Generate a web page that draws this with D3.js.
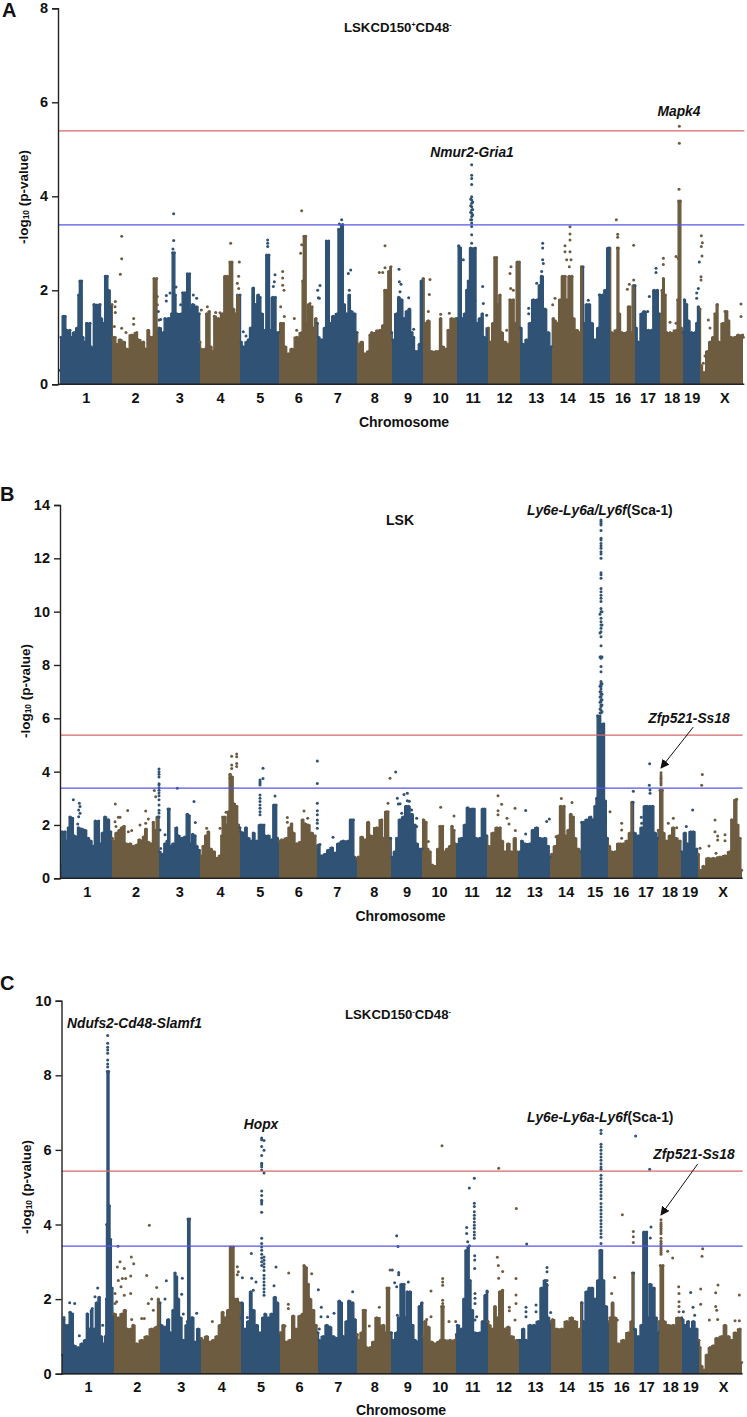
<!DOCTYPE html>
<html><head><meta charset="utf-8">
<script src="https://cdn.jsdelivr.net/npm/d3@7/dist/d3.min.js"></script>
<style>html,body{margin:0;padding:0;background:#fff}svg{display:block}text{font-family:"Liberation Sans",Arial,sans-serif;font-weight:bold;fill:#111}</style>
</head><body><script>
const chrNames=["1","2","3","4","5","6","7","8","9","10","11","12","13","14","15","16","17","18","19","X"];
const edgesA=[180,335,475,600,720,838,952,1071,1175,1270,1371,1465,1559,1656,1748,1830,1905,1980,2050,2100,2230];
const edgesB=[183,337,476,600,720,838,951,1070,1172,1267,1367,1462,1555,1651,1743,1825,1899,1974,2043,2095,2225];
const edgesC=[187,341,480,604,723,840,954,1072,1174,1270,1369,1464,1557,1653,1746,1827,1901,1976,2045,2097,2225];
const yTicksA=[0,2,4,6,8], yTicksB=[0,2,4,6,8,10,12,14], yTicksC=[0,2,4,6,8,10];

const envelopeA=[[180,.3],[183,1],[190,1.45],[195,1.45],[200,1.15],[210,1.15],[212,1],[222,1.1],[232,1.2],[236,1.9],[240,2.2],[245,2.2],[248,1],[255,.9],[260,1.3],[270,1.3],[273,.8],[278,.75],[282,1.7],[300,1.7],[303,1.4],[312,1.3],[316,2.3],[322,2.3],[325,2],[336,1.7],
[338,1],[345,1],[350,.85],[360,.95],[372,.9],[380,.75],[395,1.05],[410,1.1],[415,.95],[430,.9],[437,.75],[445,1.15],[452,1],[458,1],[462,2.25],[470,2.25],[472,1.2],[476,1.1],
[478,1.2],[490,1.1],[495,1.4],[505,1.4],[510,1.4],[515,1.5],[518,2.8],[523,2.8],[526,1.9],[530,1.5],[545,1.5],[548,1.95],[555,1.95],[558,1.2],[562,2.35],[569,2.35],[572,1.6],[578,1.7],[590,1.65],[598,1.5],[600,.9],
[603,.75],[615,.75],[620,1.5],[628,1.55],[632,.8],[640,.7],[643,1.45],[655,1.4],[668,1.5],[675,2.3],[682,2.3],[686,2],[690,2.6],[696,2.6],[700,1.6],[708,1.5],[712,1.9],[720,1.9],
[723,.9],[730,.8],[740,.9],[745,.95],[752,1.2],[760,2.05],[766,1.7],[775,1.9],[780,1.85],[785,1.5],[795,1.15],[800,2.75],[807,2.75],[810,1.15],[818,1.85],[826,1.85],[830,1.1],[836,1.1],
[842,1.3],[850,1.3],[855,.8],[865,.65],[875,.75],[890,1],[905,1.1],[908,2.2],[912,3.15],[917,3.15],[920,1.3],[926,1.7],[936,1.65],[940,1.2],[948,1.4],[952,1.3],
[955,1],[965,.95],[975,1.2],[979,3.05],[986,3.05],[990,1.3],[1000,1.45],[1012,1.5],[1016,3.3],[1028,3.4],[1032,1.7],[1040,1.5],[1048,1.9],[1054,1.55],[1064,1.5],[1071,1.1],
[1075,.85],[1085,.9],[1095,.65],[1105,.7],[1110,1.05],[1115,1.1],[1140,1.15],[1150,1.25],[1154,2],[1158,2],[1161,1.2],[1166,2.4],[1173,2.5],[1175,1.1],
[1178,.95],[1190,1.5],[1196,1.85],[1205,1.8],[1212,1.4],[1220,1.55],[1228,1.6],[1236,1.1],[1241,1],[1246,.7],[1252,.7],[1258,.85],[1264,2.2],[1270,2.25],
[1275,1.3],[1285,1.35],[1295,.7],[1308,.7],[1315,.7],[1322,1.4],[1328,.8],[1338,.75],[1345,1.15],[1355,1.4],[1368,1.4],
[1373,1.4],[1376,2.95],[1382,2.9],[1386,1.4],[1395,1.5],[1400,2],[1405,2.2],[1412,2.9],[1426,2.9],[1430,1.3],[1440,1.4],[1447,1.5],[1452,1],[1465,1.2],
[1470,.9],[1480,1.3],[1484,2.7],[1490,2.7],[1493,1.7],[1500,1.9],[1505,1.1],[1515,.9],[1525,.85],[1530,1.8],[1540,1.8],[1545,1.3],[1552,2.6],[1558,2.6],
[1562,1.2],[1570,.85],[1580,.95],[1590,1.3],[1600,1.8],[1612,1.8],[1618,2.1],[1625,2.3],[1635,1.6],[1645,1.1],[1654,.8],
[1660,1.4],[1665,1.35],[1672,1.3],[1680,1.8],[1688,2.3],[1695,2.3],[1700,1.8],[1708,2.3],[1716,2.3],[1720,1.4],[1730,1.15],[1740,1.1],[1744,2.5],[1749,2.5],
[1752,1.3],[1760,1.7],[1768,1.7],[1775,1.3],[1785,.95],[1795,1.2],[1800,1.9],[1808,1.9],[1815,2],[1825,2.9],[1829,2.9],
[1835,1.1],[1850,1.15],[1852,2.9],[1855,2.9],[1858,1.5],[1865,1.1],[1880,1.1],[1885,1.65],[1890,1.65],[1893,1.1],[1900,2.1],[1905,2.1],
[1908,1.2],[1915,.9],[1925,1.5],[1932,1.55],[1945,1.15],[1955,1.15],[1962,2],[1972,2],[1978,1.5],
[1983,1.2],[1986,2],[1990,2.25],[1996,1.9],[2000,1.1],[2010,1.1],[2030,1.15],[2033,1.8],[2036,3.9],[2041,3.9],[2044,1.2],[2050,1.1],
[2053,1.8],[2060,1.7],[2065,1.35],[2075,1.1],[2085,1.1],[2090,1.3],[2095,1.65],[2100,1.6],
[2103,.4],[2112,.25],[2122,.7],[2130,.9],[2140,1],[2145,1.5],[2152,1.7],[2156,.9],[2170,1.3],[2180,1.55],[2186,1.35],[2192,1],[2205,1],[2215,1.05],[2228,1.05],[2230,1]];

const dotsA=[[365,3.15],[365,2.67],[361,2.34],[346,1.76],[345,1.65],[346,1.53],[343,1.23],[365,1.19],[378,1.1],[401,1.4],[401,1.28],[472,1.69],[475,1.55],[477,1.37],[472,1.87],
[521,3.63],[521,3.06],[519,2.88],[499,1.89],[499,1.77],[542,1.69],[580,1.9],[590,1.83],[604,1.58],[482,1.38],[510,1.94],[528,2.07],
[692,3],[718,2.6],[716,2.3],[712,2.15],[716,2.04],[622,1.65],[647,1.53],[660,1.52],[655,.41],
[803,3.07],[803,3],[803,2.93],[825,2.33],[823,2.18],[820,2.08],[730,1.12],[738,1.03],
[905,3.69],[905,2.97],[902,2.79],[848,2.4],[848,2.26],[848,2.11],[852,2],[842,1.65],[853,1.44],[883,1.4],[890,1.15],[930,1.72],
[1025,3.5],[1018,3.41],[1052,2.43],[1045,2.36],[960,2.1],[953,2],[955,1.84],[958,1.83],[1048,2],[1070,1.1],
[1155,2.95],[1138,2.38],[1148,2.38],[1155,2.48],
[1197,2.45],[1198,2.18],[1203,2.13],[1200,1.97],[1226,1.84],[1241,1.17],
[1290,2.23],[1288,1.91],[1285,1.55],[1322,1.49],[1348,1.51],
[1448,2.08],[1425,1.78],[1390,2.65],[1450,1.72],[1460,1.47],
[1533,2.5],[1530,2.36],[1532,2.04],[1540,2],[1520,1.15],
[1628,3],[1628,2.9],[1628,2.65],[1630,2.57],[1625,2.4],[1625,2.3],[1628,2.18],[1610,2.15],[1586,1.62],[1586,1.5],
[1710,3.35],[1710,3.2],[1710,3.07],[1695,2.95],[1695,2.82],[1710,2.82],[1713,2.65],[1700,2.65],[1708,2.5],[1665,1.83],[1658,1.69],
[1798,1.9],[1765,1.79],
[1849,3.5],[1853,3.19],[1853,3.13],[1901,2.96],[1901,2.22],[1888,2.13],[1882,2.02],
[1968,2.47],[1968,2.38],[1948,1.87],[1932,1.48],[1943,1.55],
[2038,5.49],[2038,5.13],[2037,4.15],[1990,2.68],[1990,2.55],[2028,2.72],[2035,2.68],[2010,1.32],[2028,1.3],
[2104,3.16],[2107,3.01],[2104,2.93],[2106,2.73],[2098,2.6],[2103,2.29],[2103,2.22],[2095,2.04],[2090,1.94],[2090,1.83],
[2125,1.37],[2130,1.2],[2115,.6],[2110,.45],[2223,1.71],[2223,1.44],[2175,1.55]];
const columnsA=[[1415,[4.67,4.45,4.38,4.25,3.99,3.92,3.85,3.78,3.71,3.64,3.57,3.5,3.43,3.36,3.18,3.0]],[1412,[3.94,3.8,3.66,3.5]],[1418,[3.88,3.72,3.6]]];

const envelopeB=[[184,.5],[187,1.75],[195,1.75],[200,1.4],[205,1.9],[210,2.3],[218,2.25],[222,1.6],[230,1.55],[235,1.9],[245,1.85],[255,1.8],[265,1.5],[272,1.4],[280,1.2],[286,2.15],[296,2.15],[300,1.3],[308,1.7],[315,2.3],[325,2.2],[332,1.75],[337,1.5],
[340,1.4],[350,1.7],[358,1.8],[365,1.9],[372,1.95],[378,1.3],[390,1.3],[400,1.2],[410,1.25],[418,1.45],[425,1.4],[430,1.55],[438,1.85],[445,1.35],[455,1.3],[460,2.1],[465,1.8],[472,2.3],[476,2.3],
[478,1],[488,.9],[495,1.3],[502,1.4],[504,2.6],[508,2.6],[511,1.2],[520,1.3],[530,1.9],[535,1.6],[545,1.5],[555,1.55],[562,2.4],[568,2.35],[572,1.3],[578,1.65],[585,1.6],[590,1.2],[598,1.05],
[603,.85],[610,1.2],[618,1.6],[625,1.75],[632,1.1],[642,1],[650,.75],[660,.85],[665,1.6],[668,2.3],[675,2.3],[680,2],[685,2.5],[690,3.9],[697,3.8],[702,2.8],[710,2.7],[716,2],[720,1.9],
[722,1.75],[730,1.7],[738,1.9],[745,1.5],[755,1.4],[760,1.7],[770,1.4],[780,2],[785,2],[792,2],[795,1.6],[805,1.6],[815,1.45],[822,2.75],[828,2.75],[832,1.5],[838,1.4],
[840,1],[845,1.45],[860,1.5],[868,1.9],[875,2.05],[880,1.7],[890,1.3],[900,1.35],[908,2.2],[915,2.05],[925,2],[935,1.7],[945,1.6],[950,1.2],
[955,1.25],[965,.85],[975,.9],[985,1.05],[995,1.15],[1005,.95],[1015,1.3],[1030,1.4],[1045,1.4],[1052,2.2],[1060,2.2],[1063,.8],[1070,.75],
[1075,.8],[1085,1.55],[1095,1.45],[1105,2.1],[1112,1.6],[1130,1.9],[1145,2.2],[1150,1.5],[1158,2.5],[1164,2.5],[1168,1.5],[1172,1.5],
[1175,.8],[1185,1],[1190,1.5],[1200,2.2],[1210,2.3],[1218,2.7],[1225,2.7],[1235,2.4],[1245,2],[1250,1.3],[1260,1.1],[1266,1.1],
[1270,2.2],[1278,2.1],[1283,1.1],[1290,1],[1296,.5],[1305,.45],[1315,1.1],[1320,1.95],[1328,1.95],[1332,1],[1342,1.1],[1350,1.2],[1356,1.95],[1362,1.8],
[1366,1.3],[1385,1.5],[1395,2],[1403,2.65],[1408,2.6],[1412,1.4],[1416,2.6],[1422,2.6],[1428,1.5],[1440,1.5],[1448,2.6],[1454,2.6],[1460,1.6],
[1466,1.2],[1480,1.7],[1490,1.9],[1500,1.9],[1506,1.4],[1515,1],[1525,1.3],[1535,1],[1545,1.5],[1552,1],
[1560,1],[1565,1.4],[1575,1.3],[1590,1.3],[1598,1.8],[1610,1.9],[1620,1.5],[1635,1.5],[1645,1.2],[1650,.8],
[1655,.9],[1665,1.2],[1675,1.6],[1682,2.7],[1692,2.7],[1697,1.6],[1705,1.8],[1712,2.4],[1720,2.3],[1725,1.5],[1735,1.1],[1743,1],
[1745,2.1],[1750,2.1],[1760,2.2],[1772,2.3],[1778,2.2],[1786,2.7],[1790,3],[1793,6.1],[1811,5.8],[1816,2.9],[1822,1.5],
[1828,1.2],[1835,1],[1845,1],[1855,1.3],[1862,1.3],[1870,1.3],[1880,1.4],[1890,1.7],[1896,2.85],[1899,2.85],
[1902,1.7],[1915,1.6],[1925,1.9],[1935,2.7],[1942,2.7],[1946,2],[1950,2.7],[1958,2.7],[1965,1.7],[1973,1.5],
[1975,1.8],[1978,1.7],[1980,3.3],[1987,3.3],[1990,1.7],[2000,1.4],[2010,1.6],[2020,1.9],[2028,1.5],[2040,1.4],
[2045,1],[2055,1.7],[2062,1.3],[2072,1.75],[2080,1.75],[2090,1.1],[2095,.9],
[2100,.1],[2103,.3],[2110,.45],[2125,.75],[2140,.75],[2160,.8],[2175,.85],[2190,1],[2195,2.2],[2208,2.95],[2213,2],[2220,1.5],[2225,.3]];
const dotsB=[[220,2.95],[238,2.81],[240,2.69],[236,2.56],[240,2.44],[233,2.04],[236,2.31],
[346,2.79],[345,2.12],[355,2.29],[360,2.29],[348,1.94],[383,2.54],[395,1.79],[385,1.75],[437,2.52],[420,2],[445,2.22],[437,2.06],[463,3.29],[467,3.06],
[532,3.38],[582,2.88],[586,2.09],[480,1.81],[482,1.12],[495,1.63],
[695,4.58],[710,4.66],[710,4.56],[710,4.31],[710,4.19],[695,4.25],[695,4.12],[690,3.75],[678,2.48],[660,1.88],[620,1.88],
[789,4.13],[789,3.74],[825,3.09],
[952,4.4],[952,3.56],[952,2.81],[952,2.53],[952,2.38],[952,2.19],[952,2.06],[952,1.88],[912,2.52],[923,2.25],[862,2.28],[862,2.1],
[999,1.54],[960,1.27],[1022,1.35],
[1164,2.81],[1170,3.75],[1187,3.99],
[1192,3],[1195,2.79],[1212,3.14],[1222,3.19],[1222,2.91],[1228,2.89],[1228,2.62],[1235,2.56],[1200,2.8],[1205,2.44],[1250,2.25],[1250,1.94],
[1322,2.66],[1362,2.34],[1285,1.38],
[1494,3.1],[1505,2.78],[1494,2.53],[1494,2.38],[1521,2.25],[1527,2.04],[1546,1.79],[1545,2.63],
[1577,2.54],[1577,1.66],[1612,1.87],[1640,2.13],[1648,2.22],[1568,1.3],
[1684,2.99],[1716,2.84],[1668,1.56],
[1830,2.5],[1900,3.26],[1865,2.06],[1865,1.81],[1865,1.5],
[1949,4.3],[1948,3.49],[1950,3.31],[1950,3.19],[1924,2.29],[1925,2.06],
[2020,2.25],[2005,2.06],[2030,1.9],
[2078,2.56],[2059,1.94],[2107,3.89],[2105,3.49],[2100,1.13],
[2145,2.19],[2145,1.75],[2153,1.59],[2153,1.44],[2175,1.63],[2175,1.41],[2127,1.21],[2148,.94],[2210,2.96]];
const columnsB=[[477,[4.1,4,3.9,3.8,3.55,3.5,3.4,3.3,3.2,3.1,2.95,2.75,2.55,2.45,2.3]],
[780,[3.69,3.62,3.56,3.5,3.12,3,2.88,2.75,2.63,2.5,2.38]],
[1983,[3.96,3.87,3.81,3.75,3.69,3.62,3.56,3.5]],
[1803,[13.44,13.38,13.31,13.25,13.04,12.75,12.69,12.56,12.46,12.38,12.25,12.16,12,11.46,11.38,11.25,10.87,10.75,10.62,10.5,10.38,10.12,10,9.75,9.62,9.5,9.38,9.25,9.06,8.72,8.31,8.25,7.94,7.75,7.38,7.31,7.25,7.19,7.1,7,6.9,6.81,6.7,6.62,6.5,6.44,6.31,6.2]],
[1800,[9.9,9.2,8.3,7.2,7,6.8,6.6,6.35,6.2]],[1806,[10,9.5,8.3,7.3,6.9,6.7,6.5,6.25]]];

const envelopeC=[[188,.5],[192,1.45],[196,1.3],[205,1.3],[210,1.65],[218,1.6],[222,.75],[235,.7],[245,.8],[256,.9],[262,1.6],[268,1.2],[275,1.7],[282,1.2],[290,1.9],[298,2.05],[303,1],[312,.8],[316,1],[319,2],[320,4],[322,8.1],[326,8.1],[328,4.5],[332,3.6],[336,2.3],[341,1.6],
[343,1.6],[355,1.5],[365,1.6],[375,1.7],[382,1.2],[392,1.2],[400,1.3],[410,.8],[425,.9],[440,1],[455,1.2],[470,1.25],[475,2],[480,1.9],
[483,1.3],[495,1.25],[505,1.45],[512,1.1],[520,1.7],[525,2.7],[530,2.6],[535,2],[542,1.5],[550,.9],[560,1.3],[562,1.4],[564,4.15],[569,4.15],[571,1.4],[578,1.5],[585,.85],[595,1.2],[604,.95],
[607,.9],[620,1],[630,.85],[640,.9],[650,1],[660,1.3],[668,1.65],[675,1.5],[685,1.7],[692,3.4],[700,3.4],[704,2],[712,2],[718,1.9],[723,1.5],
[725,1.9],[735,1.2],[745,1.4],[752,2.2],[760,1.7],[770,1.3],[780,1.1],[790,1.5],[795,1.6],[805,1.5],[815,1.6],[825,2.05],[832,1.9],[840,1.1],
[842,1.1],[850,1.3],[858,.85],[870,.9],[880,1.55],[888,1.2],[900,1.55],[908,1.6],[912,2.9],[918,2.85],[925,2.4],[930,2],[940,1.7],[948,1.3],[954,1.1],
[957,.9],[970,1],[980,1.3],[990,1.25],[1000,1],[1010,.95],[1018,1.95],[1024,1.9],[1030,1],[1040,1.4],[1047,1.95],[1058,1.9],[1065,1.45],[1072,1.05],
[1075,.9],[1085,1.1],[1090,1.7],[1096,1.7],[1100,.7],[1110,.7],[1120,.85],[1130,1.5],[1150,1.3],[1158,1.1],[1161,2.3],[1167,2.3],[1170,1.1],[1174,1.1],
[1178,.9],[1190,1.1],[1195,1.5],[1205,2.4],[1212,2.4],[1216,1.5],[1222,2.2],[1230,2.2],[1238,1.3],[1245,.9],[1252,.85],[1258,1.8],[1266,1.9],[1270,1],
[1275,1.4],[1285,1.25],[1295,.85],[1305,.8],[1315,.85],[1322,.9],[1325,1.8],[1330,1.8],[1333,.9],[1350,.9],[1365,.9],[1369,1.05],
[1372,1.3],[1385,1.2],[1392,2],[1398,3.3],[1405,3.4],[1410,2.5],[1416,1.7],[1425,1.1],[1440,1.1],[1448,1.4],[1456,2.1],[1462,2.2],[1464,1.4],
[1468,1.3],[1478,1.2],[1485,1.8],[1492,1.5],[1500,2.2],[1508,2.24],[1512,1.2],[1525,1.25],[1535,1],[1550,.9],[1557,.9],
[1560,.9],[1570,1.2],[1578,.9],[1590,1.3],[1602,1.3],[1615,1.4],[1625,2.3],[1635,2.5],[1640,2.4],[1645,1.5],[1653,1.4],
[1658,1.45],[1670,1.2],[1685,1.2],[1700,1.4],[1715,1.5],[1725,1.4],[1740,1.2],[1744,1.9],[1746,1.9],
[1750,1.4],[1760,2.2],[1768,2.3],[1776,2.3],[1785,2],[1795,2.5],[1800,3.3],[1805,3.3],[1810,2.5],[1818,1.8],[1827,1.4],
[1830,1.5],[1838,1.9],[1845,1.5],[1855,.8],[1870,.9],[1885,1.1],[1895,1.4],[1897,2.7],[1901,2.7],
[1903,1.2],[1915,1],[1925,1.3],[1932,3.8],[1940,3.8],[1944,1.5],[1950,2.4],[1962,2.3],[1968,1.5],[1975,1.1],
[1978,1.4],[1980,1.4],[1981,2.9],[1989,2.9],[1992,1.4],[2005,1.3],[2020,1.3],[2035,1.5],[2045,1.5],
[2048,1.45],[2055,1.3],[2065,1.4],[2070,1.2],[2080,1.4],[2090,1.2],[2097,.9],
[2100,.7],[2105,.2],[2112,.1],[2120,.5],[2130,.7],[2140,.75],[2150,.95],[2165,1],[2175,1.3],[2185,1],[2195,.9],[2205,1.1],[2220,1.2],[2225,.3]];
const dotsC=[[192,1.51],[209,1.9],[224,1.88],[238,1.02],[293,2.3],[285,2.06],[277,1.75],[262,1.6],[308,1.3],
[354,3.42],[448,3.98],[394,3.13],[352,2.86],[360,3],[401,2.95],[373,2.82],[355,2.5],[367,2.55],[377,2.55],[392,2.62],[440,2.63],[470,2.31],[363,2.33],[373,2.1],[392,2.15],[345,2.15],[350,1.93],[345,1.88],[455,2],[445,1.88],[425,1.48],[433,1.48],[395,1.45],[460,1.7],
[499,2.49],[495,2],[547,2.56],[545,2.13],[590,1.62],[575,1.5],[550,1.6],
[712,2.87],[715,2.73],[712,2.65],[727,2.57],[637,1.4],
[754,3.22],[755,2.56],[768,2.46],[760,2.24],[822,2.36],[828,2.86],[742,1.51],
[866,2.7],[865,1.86],[865,1.75],[935,2.68],[955,2.25],[855,1.28],[900,1.35],
[1058,2.2],[964,1.78],[963,1.53],[983,1.53],[1002,1.62],[958,1.2],
[1170,2.78],[1177,2.78],[1108,1.28],[1138,1.78],
[1190,3.7],[1194,3.41],[1196,2.71],[1196,2.65],[1184,2.44],[1190,2.33],[1225,2.46],[1192,1.57],
[1326,6.11],[1293,2.22],[1293,1.53],[1280,1.45],[1347,1.4],[1367,1.4],
[1423,5.24],[1408,4.98],[1400,3.92],[1400,3.76],[1403,3.54],[1408,3.43],[1424,3.16],[1424,3.05],[1424,2.82],[1461,2.22],[1425,2.15],[1425,2.02],[1425,1.88],[1430,1.53],[1425,1.44],
[1496,5.51],[1549,4.43],[1492,3.12],[1495,2.9],[1508,2.74],[1496,2.56],[1548,2.55],[1548,2.11],[1548,1.88],[1528,1.78],[1528,1.69],[1545,1.44],
[1580,3.48],[1641,2.85],[1641,2.73],[1641,2.5],[1641,2.37],[1578,1.78],[1578,1.66],[1578,1.53],[1608,1.84],[1608,1.66],[1652,1.64],
[1844,2.58],[1867,4.26],[1900,3.81],[1900,3.67],[1900,3.52],[1835,2.15],[1852,1.44],
[1907,6.37],[1949,5.48],[1953,3.93],[1951,3.64],[1932,3.76],
[2003,3.28],[2018,3.1],[2036,2.33],[2037,2.15],[2037,1.93],[2037,1.8],[2037,1.66],
[2108,3.35],[2106,3.15],[2072,2.18],[2079,1.78],[2084,1.57],[2050,1.66],[2102,2.27],[2102,1.86],
[2154,2.38],[2147,2.17],[2147,1.8],[2150,1.7],[2128,1.44],[2153,1.45],[2205,1.42],[2218,1.42],[2218,2.11]];
const columnsC=[[323,[9.07,8.86,8.75,8.68,8.59,8.41,8.3,8.22]],
[785,[6.32,6.27,6.09,5.85,5.64,5.6,5.55,5.46,4.9,4.78,4.65,4.6,4.55,4.33,3.63,3.49,3.4,3.31,3.2,3.1,3,2.9]],
[792,[6.25,5.99,5.38,3.13,3.04,2.95,2.86,2.77,2.64,2.55,2.46,2.37,2.28,2.19,2.1]],
[1328,[2.55,2.46,2.37,1.97,1.88,1.79]],
[1423,[4.57,4.48,4.34,4.25,4.16,4.07,3.98,3.9,3.8,3.72,3.63]],
[1803,[6.53,6.44,6.15,6.08,5.99,5.9,5.81,5.72,5.63,5.54,5.48,5.32,5.23,5.14,5.05,4.96,4.87,4.78,4.69,4.56,4.47,4.38,4.29,4.2,4.11,4.02,3.93,3.84,3.75,3.66,3.49,3.31]],
[1983,[4.13,4.05,4,3.95,3.9,3.85,3.8,3.75,3.63,3.55,3.5,3.45,3.4,3.35,3.3,3.25,3.2]]];

const BLUE="#2f5275",BROWN="#6e5c41",RED="#d4686a",LINEBLUE="#5555e8";
const svg=d3.select("body").append("svg").attr("width",747).attr("height",1417);
const defs=svg.append("defs");
defs.append("marker").attr("id","ah").attr("viewBox","0 0 10 10").attr("refX",9).attr("refY",5).attr("markerWidth",9).attr("markerHeight",9).attr("orient","auto").attr("markerUnits","userSpaceOnUse")
 .append("path").attr("d","M0,0L10,5L0,10Z").attr("fill","#111");

function panel(cfg,idx){
 const X=d3.scaleLinear().domain([0,2241]).range([0,747]);
 const Y=d3.scaleLinear().domain([0,cfg.max]).range([cfg.y0,cfg.yTop]);
 const g=svg.append("g");
 const colour=i=>i%2?BROWN:BLUE;
 const chrOf=x=>Math.max(0,Math.min(19,d3.bisectRight(cfg.edges,x)-1));
 const area=d3.area().curve(d3.curveStep).x(d=>X(d[0])).y0(Y(0)).y1(d=>Y(d[1]));
 const full=[[cfg.edges[0],cfg.env[0][1]],...cfg.env,[cfg.edges[20],cfg.env[cfg.env.length-1][1]]];
 chrNames.forEach((n,i)=>{
  const id=`clip${idx}_${i}`;
  const x0=Math.round(X(cfg.edges[i])),x1=Math.round(X(cfg.edges[i+1]));
  defs.append("clipPath").attr("id",id).append("rect").attr("x",x0).attr("width",x1-x0).attr("y",0).attr("height",cfg.y0+1);
  g.append("path").attr("clip-path",`url(#${id})`).attr("d",area(full)).attr("fill",colour(i)).attr("stroke",colour(i)).attr("stroke-width",1.4).attr("stroke-linejoin","round");
 });
 const pts=[...cfg.env.slice(),...cfg.dots,...cfg.cols.flatMap(c=>c[1].map(v=>[c[0],v]))];
 g.selectAll("circle").data(pts).join("circle").attr("cx",d=>X(d[0])).attr("cy",d=>Y(d[1])).attr("r",1.5).attr("fill",d=>colour(chrOf(d[0])));
 [[cfg.red,RED],[cfg.blue,LINEBLUE]].forEach(([v,c])=>{
  g.append("line").attr("x1",cfg.axisX).attr("x2",X(cfg.edges[20])+1).attr("y1",Y(v)).attr("y2",Y(v)).attr("stroke",c).attr("stroke-width",1.2);
 });
 const ax=g.append("g").attr("transform",`translate(${cfg.axisX},0)`).call(d3.axisLeft(Y).tickValues(cfg.ticks).tickSize(6).tickPadding(4).tickFormat(d3.format("d")));
 ax.selectAll("text").attr("font-size",14.5).style("font-weight","bold");
 ax.selectAll("line,path").attr("stroke","#222").attr("stroke-width",1.4);
 const mids=cfg.edges.slice(0,20).map((e,i)=>(e+cfg.edges[i+1])/2+(i==19?8:0));
 const bx=g.append("g").attr("transform",`translate(0,${cfg.y0})`).call(d3.axisBottom(X).tickValues(mids).tickSize(0).tickPadding(8).tickFormat((d,i)=>chrNames[i]));
 bx.selectAll("text").attr("font-size",14.5).style("font-weight","bold");
 bx.select("path").remove();
 g.append("line").attr("x1",cfg.axisX).attr("x2",X(cfg.edges[20])+1).attr("y1",Y(0)).attr("y2",Y(0)).attr("stroke","#222").attr("stroke-width",1.5);
 g.append("text").attr("x",cfg.chromX).attr("y",cfg.chromY).attr("text-anchor","middle").attr("dominant-baseline","central").attr("font-size",14).text("Chromosome");
 const yt=g.append("text").attr("transform",`translate(${cfg.ytX},${cfg.ytY}) rotate(-90)`).attr("text-anchor","middle").attr("dominant-baseline","central").attr("font-size",13.5);
 yt.append("tspan").text("-log");yt.append("tspan").attr("font-size",8.5).attr("dy",3).text("10");yt.append("tspan").attr("dy",-3).text(" (p-value)");
 g.append("text").attr("x",cfg.letter[0]).attr("y",cfg.letter[1]).attr("dominant-baseline","central").attr("font-size",20).text(cfg.letter[2]);
 (cfg.labels||[]).forEach(l=>{
  const t=g.append("text").attr("x",l.x).attr("y",l.y).attr("text-anchor",l.anchor||"middle").attr("dominant-baseline","central").attr("font-size",l.size||13.8);
  l.parts.forEach(p=>{const s=t.append("tspan").text(p.t);if(p.i)s.attr("font-style","italic");if(p.sup){s.attr("font-size",7).attr("dy",p.sup);}if(p.back)s.attr("dy",p.back);});
 });
 (cfg.arrow?[cfg.arrow]:[]).forEach(a=>g.append("line").attr("x1",a[0]).attr("y1",a[1]).attr("x2",a[2]).attr("y2",a[3]).attr("stroke","#111").attr("stroke-width",1).attr("marker-end","url(#ah)"));
}
const it=t=>({t,i:1});
panel({edges:edgesA,env:envelopeA,dots:dotsA,cols:columnsA,max:8,y0:384.3,yTop:8.3,axisX:58,red:5.39,blue:3.39,ticks:yTicksA,chromX:404,chromY:422,ytX:23,ytY:197,letter:[2,10,"A"],
 labels:[{x:344,y:27,anchor:"start",size:13.2,parts:[{t:"LSKCD150"},{t:"+",sup:-3},{t:"CD48",back:3},{t:"-",sup:-3}]},
 {x:679,y:111,parts:[it("Mapk4")]},{x:472,y:152,parts:[it("Nmur2-Gria1")]}]},0);
panel({edges:edgesB,env:envelopeB,dots:dotsB,cols:columnsB,max:14,y0:878.3,yTop:505,axisX:60,red:5.37,blue:3.38,ticks:yTicksB,chromX:400.5,chromY:916,ytX:25,ytY:691,letter:[0,494,"B"],
 labels:[{x:400,y:520,size:14,parts:[{t:"LSK"}]},{x:527,y:510,anchor:"start",parts:[it("Ly6e-Ly6a/Ly6f"),{t:"(Sca-1)"}]},{x:689,y:718,parts:[it("Zfp521-Ss18")]}],arrow:[693.3,727,661,768]},1);
panel({edges:edgesC,env:envelopeC,dots:dotsC,cols:columnsC,max:10,y0:1373.7,yTop:1000.7,axisX:61.5,red:5.43,blue:3.42,ticks:yTicksC,chromX:401,chromY:1410,ytX:26,ytY:1187,letter:[0,983,"C"],
 labels:[{x:345,y:1014,anchor:"start",size:13.2,parts:[{t:"LSKCD150"},{t:"-",sup:-3},{t:"CD48",back:3},{t:"-",sup:-3}]},{x:67,y:1023,anchor:"start",parts:[it("Ndufs2-Cd48-Slamf1")]},{x:261,y:1124,parts:[it("Hopx")]},
 {x:527,y:1117,anchor:"start",parts:[it("Ly6e-Ly6a-Ly6f"),{t:"(Sca-1)"}]},{x:694,y:1154,parts:[it("Zfp521-Ss18")]}],arrow:[697.7,1164,661,1215]},2);
</script></body></html>
